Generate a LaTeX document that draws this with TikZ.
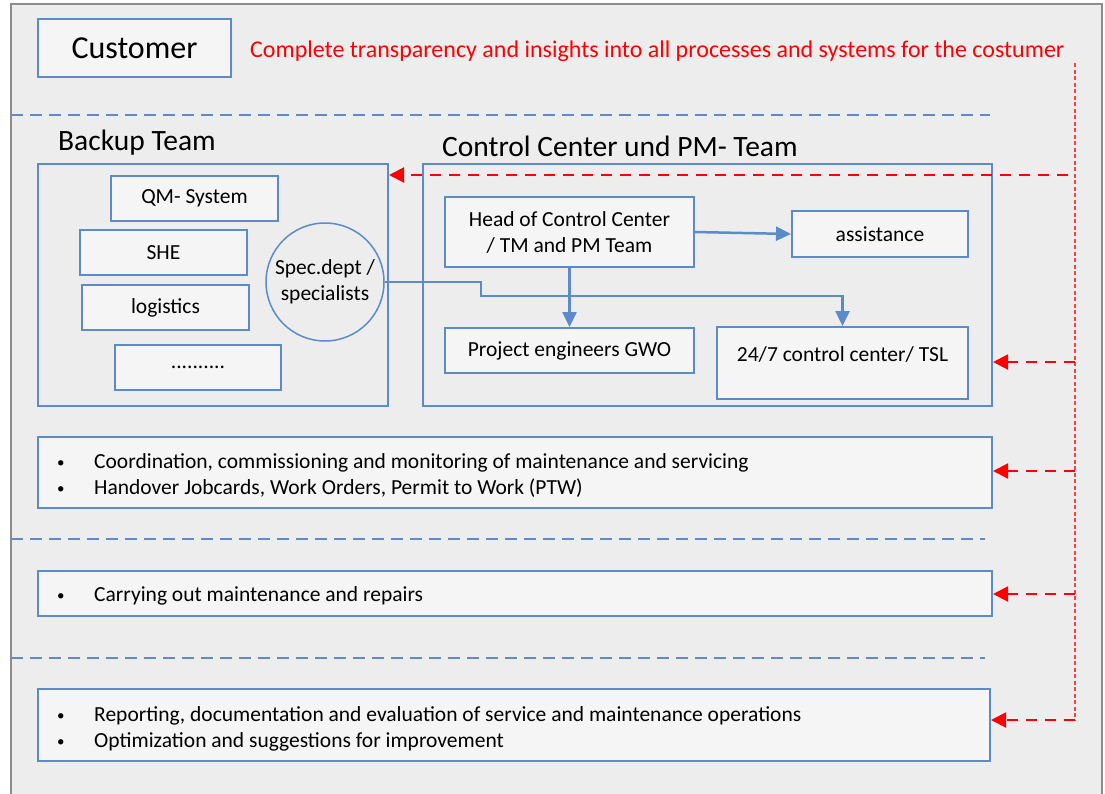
\documentclass[tikz,border=0pt]{standalone}
\usepackage{fontspec}
\setmainfont{Carlito}
\usetikzlibrary{arrows.meta}
\definecolor{bl}{HTML}{5B8BCB}
\definecolor{boxfill}{HTML}{F5F5F5}
\definecolor{bgfill}{HTML}{EDEDED}
\definecolor{framegray}{HTML}{8C8C8C}
\definecolor{rd}{HTML}{FF0000}
\tikzset{
  box/.style={draw=bl, line width=2pt, fill=boxfill, inner sep=0pt, align=center,
    font=\fontsize{21.5}{26}\selectfont},
  groupbox/.style={draw=bl, line width=2pt, inner sep=0pt},
  conn/.style={draw=bl, line width=2.5pt, -{Triangle[length=15pt,width=14pt]}},
  bluedash/.style={draw=bl, line width=2pt, dash pattern=on 12pt off 7pt},
  redarr/.style={draw=rd, line width=2pt, dash pattern=on 11pt off 8pt, -{Triangle[length=15pt,width=15pt]}},
  reddot/.style={draw=rd!75, line width=1.3pt, dash pattern=on 4pt off 2.5pt},
  bullets/.style={anchor=west, align=left, inner sep=0pt, font=\fontsize{21.5}{26}\selectfont},
}
\newcommand{\bul}{\makebox[37pt][l]{\raisebox{1pt}{\fontsize{15}{15}\selectfont\textbullet}}}
\begin{document}
\begin{tikzpicture}[x=1pt,y=-1pt]
\useasboundingbox (0,0) rectangle (1105,793);
\fill[white] (0,0) rectangle (1105,793);
\draw[framegray, fill=bgfill, line width=1.5pt] (11,4) rectangle (1102,810);

% customer
\node[box, minimum width=193pt, minimum height=58pt, font=\fontsize{32}{36}\selectfont] (cust) at (134.5,48) {Customer};
\node[anchor=west, inner sep=0pt, text=rd, font=\fontsize{24}{28}\selectfont] (ctext) at (250,51) {Complete transparency and insights into all processes and systems for the costumer};

% separators
\coordinate (s1a) at (11,115); \coordinate (s1b) at (990,115);
\coordinate (s2a) at (11,539); \coordinate (s2b) at (985,539);
\coordinate (s3a) at (11,658); \coordinate (s3b) at (985,658);
\draw[bluedash] (s1a) -- (s1b);
\draw[bluedash] (s2a) -- (s2b);
\draw[bluedash] (s3a) -- (s3b);

% group labels
\node[anchor=west, inner sep=0pt, font=\fontsize{29.5}{32}\selectfont] (blabel) at (58,143) {Backup Team};
\node[anchor=west, inner sep=0pt, font=\fontsize{29.5}{32}\selectfont] (clabel) at (442,146) {Control Center und PM- Team};

% backup team
\node[groupbox, minimum width=350pt, minimum height=242pt] (backup) at (213,285) {};
\node[box, minimum width=167pt, minimum height=45pt] (qm) at (194.5,198.5) {QM- System};
\node[box, minimum width=167pt, minimum height=45pt] (she) at (163.5,252.5) {SHE};
\node[box, minimum width=167pt, minimum height=45pt] (log) at (165.5,307.5) {logistics};
\node[box, minimum width=166pt, minimum height=45pt] (dots) at (198,367.5) {..........};
\node[draw=bl, line width=1.5pt, circle, minimum size=118pt, inner sep=0pt, align=center, font=\fontsize{21.5}{26}\selectfont] (spec) at (325,282) {Spec.dept /\\specialists};

% control center
\node[groupbox, minimum width=569pt, minimum height=242pt] (cc) at (707.5,285) {};
\node[box, minimum width=249pt, minimum height=70pt] (head) at (569.5,232) {Head of Control Center\\/ TM and PM Team};
\node[box, minimum width=176pt, minimum height=46pt] (assist) at (880,234) {assistance};
\node[box, minimum width=249pt, minimum height=45pt] (proj) at (569.5,350.5) {Project engineers GWO};
\node[box, minimum width=251pt, minimum height=72pt] (tsl) at (842.5,363) {};
\node[inner sep=0pt, font=\fontsize{21.5}{26}\selectfont] (tsltext) at ([yshift=9pt]tsl.center) {24/7 control center/ TSL};

% bullet boxes
\node[box, minimum width=954pt, minimum height=71pt] (b1) at (515,472.5) {};
\node[bullets] (b1t) at (57,476) {\bul Coordination, commissioning and monitoring of maintenance and servicing\\\bul Handover Jobcards, Work Orders, Permit to Work (PTW)};
\node[box, minimum width=954pt, minimum height=45pt] (b2) at (515,593.5) {};
\node[bullets] (b2t) at (57,595.5) {\bul Carrying out maintenance and repairs};
\node[box, minimum width=952pt, minimum height=72pt] (b3) at (514,725) {};
\node[bullets] (b3t) at (57,729) {\bul Reporting, documentation and evaluation of service and maintenance operations\\\bul Optimization and suggestions for improvement};

% blue connectors
\coordinate (j1) at (481,296);
\draw[conn] (head.east) -- (assist.west);
\draw[conn] (head.south) -- (proj.north);
\draw[conn] (spec.east) -| (j1) -| (tsl.north);

% red feedback
\coordinate (rtop) at (1075,63);
\coordinate (rbot) at (1075,720);
\coordinate (r0) at (1068,175);
\coordinate (r1) at (1075,362);
\coordinate (r2) at (1075,471);
\coordinate (r3) at (1075,594);
\draw[reddot] (rtop) -- (rbot);
\draw[redarr] (r0) -- (r0 -| backup.east);
\draw[redarr] (r1) -- (r1 -| cc.east);
\draw[redarr] (r2) -- (r2 -| b1.east);
\draw[redarr] (r3) -- (r3 -| b2.east);
\draw[redarr] (rbot) -- (rbot -| b3.east);
\end{tikzpicture}
\end{document}
